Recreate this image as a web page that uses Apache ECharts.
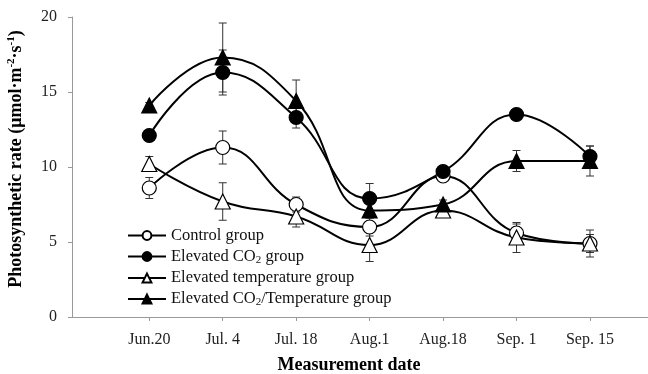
<!DOCTYPE html>
<html>
<head>
<meta charset="utf-8">
<script src="https://cdn.jsdelivr.net/npm/echarts@6/dist/echarts.min.js"></script>
<style>
  html, body { margin: 0; padding: 0; background: #fff; }
  #chart { width: 648px; height: 374px; }
</style>
</head>
<body>
<div id="chart"></div>
<script>
// ── Data ───────────────────────────────────────────────
const dates = ['Jun.20', 'Jul. 4', 'Jul. 18', 'Aug.1', 'Aug.18', 'Sep. 1', 'Sep. 15'];

const controlVals   = [8.6, 11.3, 7.5, 6.0, 9.4, 5.6, 4.9];
const controlErr    = [0.7, 1.1, 0.5, 0.6, 0.3, 0.6, 0.9];

const co2Vals       = [12.1, 16.3, 13.3, 7.9, 9.7, 13.5, 10.7];
const co2Err        = [0.3, 1.5, 0.7, 1.0, 0.3, 0.2, 0.7];

const tempVals      = [10.2, 7.7, 6.7, 4.8, 7.1, 5.3, 4.9];
const tempErr       = [0.5, 1.25, 0.7, 1.1, 0.3, 1.0, 0.6];

const co2TempVals   = [14.1, 17.3, 14.4, 7.1, 7.5, 10.4, 10.4];
const co2TempErr    = [0.2, 2.3, 1.4, 0.5, 0.3, 0.7, 1.0];

const yTicks = [0, 5, 10, 15, 20];

const groups = [
  { name: 'Control group',                  vals: controlVals, err: controlErr, symbol: 'circle',   fill: '#fff' },
  { name: 'Elevated CO2 group',             vals: co2Vals,     err: co2Err,     symbol: 'circle',   fill: '#000' },
  { name: 'Elevated temperature group',     vals: tempVals,    err: tempErr,    symbol: 'triangle', fill: '#fff' },
  { name: 'Elevated CO2/Temperature group', vals: co2TempVals, err: co2TempErr, symbol: 'triangle', fill: '#000' },
];

// ── Chart ──────────────────────────────────────────────
const chart = echarts.init(document.getElementById('chart'));
const FONT = "'Liberation Serif', 'Times New Roman', serif";
const idx = dates.map((_, i) => i);

const lineSeries = groups.map(g => ({
  type: 'line',
  name: g.name,
  data: g.vals.map((v, i) => [i, v]),
  smooth: 0.45,
  symbol: g.symbol,
  symbolSize: g.symbol === 'circle' ? 14 : 15,
  showAllSymbol: true,
  lineStyle: { color: '#000', width: 2 },
  itemStyle: { color: g.fill, borderColor: '#000', borderWidth: 1.2 },
  z: 3,
  emphasis: { disabled: true },
}));

// error bars: vertical line with short caps
const errSeries = groups.map(g => ({
  type: 'custom',
  name: g.name + ' err',
  data: g.vals.map((v, i) => [i, v - g.err[i], v + g.err[i]]),
  z: 2,
  silent: true,
  renderItem: (params, api) => {
    const x  = api.value(0);
    const lo = api.coord([x, api.value(1)]);
    const hi = api.coord([x, api.value(2)]);
    const w = 4;
    const st = { stroke: '#333', lineWidth: 1 };
    return {
      type: 'group',
      children: [
        { type: 'line', shape: { x1: hi[0], y1: hi[1], x2: lo[0], y2: lo[1] }, style: st },
        { type: 'line', shape: { x1: hi[0] - w, y1: hi[1], x2: hi[0] + w, y2: hi[1] }, style: st },
        { type: 'line', shape: { x1: lo[0] - w, y1: lo[1], x2: lo[0] + w, y2: lo[1] }, style: st },
      ],
    };
  },
}));

chart.setOption({
  backgroundColor: '#fff',
  animation: false,
  grid: { left: 72, right: 0, top: 17, bottom: 57, outerBoundsMode: 'none' },
  legend: {
    data: groups.map(g => g.name),
    orient: 'vertical',
    left: 127,
    top: 227,
    padding: 0,
    itemWidth: 38,
    itemHeight: 11,
    itemGap: 4,
    selectedMode: false,
    formatter: name => name.replace('CO2', 'CO{sub|2}'),
    textStyle: {
      fontFamily: FONT,
      fontSize: 16.5,
      color: '#111',
      rich: {
        sub: { fontFamily: FONT, fontSize: 11, color: '#111', verticalAlign: 'bottom', padding: [7, 0, 0, 0] },
      },
    },
  },
  xAxis: {
    type: 'value',
    min: -1.052,
    max: 6.79,
    name: 'Measurement date',
    nameLocation: 'middle',
    nameGap: 39,
    nameTextStyle: { fontFamily: FONT, fontSize: 18, fontWeight: 'bold', color: '#000', padding: [0, 22, 0, 0] },
    splitLine: { show: false },
    axisLine: { lineStyle: { color: '#999' } },
    axisTick: { customValues: idx, length: 4, lineStyle: { color: '#999' } },
    axisLabel: {
      customValues: idx,
      margin: 15,
      fontFamily: FONT,
      fontSize: 16,
      color: '#222',
      formatter: v => dates[Math.round(v)] ?? '',
    },
  },
  yAxis: {
    type: 'value',
    min: 0,
    max: 20,
    interval: 5,
    name: '{b|Photosynthetic rate (μmol·m}{sup|-2}{b|·s}{sup|-1}{b|)}',
    nameLocation: 'middle',
    nameGap: 46,
    nameTextStyle: {
      padding: [0, 0, 0, 16],
      rich: {
        b:   { fontFamily: FONT, fontSize: 18, fontWeight: 'bold', color: '#000', lineHeight: 20 },
        sup: { fontFamily: FONT, fontSize: 11, fontWeight: 'bold', color: '#000', verticalAlign: 'top', lineHeight: 20 },
      },
    },
    splitLine: { show: false },
    axisLine: { show: true, onZero: false, lineStyle: { color: '#999' } },
    axisTick: { show: true, length: 4, lineStyle: { color: '#999' } },
    axisLabel: {
      margin: 15,
      fontFamily: FONT,
      fontSize: 16,
      color: '#222',
      formatter: v => yTicks.includes(v) ? String(v) : '',
    },
  },
  series: [...errSeries, ...lineSeries],
});
</script>
</body>
</html>
